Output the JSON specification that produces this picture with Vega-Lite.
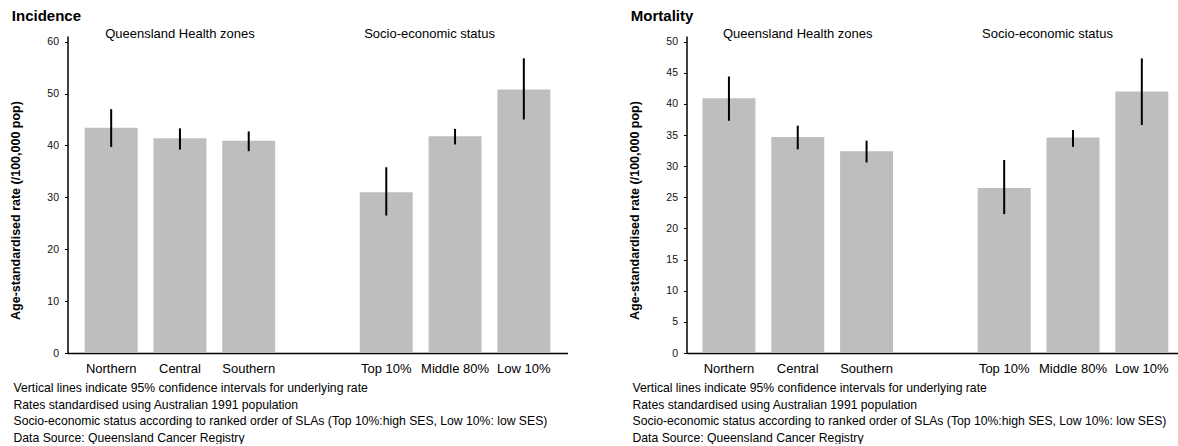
{
  "$schema": "https://vega.github.io/schema/vega-lite/v6.json",
  "padding": {"left": 9.5, "top": 8, "right": 0, "bottom": 0},
  "autosize": {"type": "pad"},
  "config": {
    "font": "Liberation Sans",
    "view": {"stroke": null},
    "axis": {"grid": false, "domainColor": "#000", "domainWidth": 1.5, "tickColor": "#000", "labelColor": "#111", "titleColor": "#000", "labelFont": "Liberation Sans", "titleFont": "Liberation Sans", "labelOverlap": false, "labelFlush": false},
    "title": {"anchor": "start", "fontSize": 15, "font": "Liberation Sans", "fontWeight": "bold", "color": "#000", "offset": 4, "dx": 2},
    "concat": {"spacing": 61},
    "text": {"font": "Liberation Sans", "fontSize": 13, "color": "#000"}
  },
  "datasets": {
    "incidence": [
      {"group": "Northern", "rate": 43.4, "lower": 39.7, "upper": 47.0},
      {"group": "Central", "rate": 41.4, "lower": 39.2, "upper": 43.3},
      {"group": "Southern", "rate": 40.9, "lower": 38.9, "upper": 42.7},
      {"group": "Top 10%", "rate": 31.0, "lower": 26.5, "upper": 35.8},
      {"group": "Middle 80%", "rate": 41.8, "lower": 40.2, "upper": 43.2},
      {"group": "Low 10%", "rate": 50.8, "lower": 45.0, "upper": 56.8}
    ],
    "mortality": [
      {"group": "Northern", "rate": 40.9, "lower": 37.3, "upper": 44.4},
      {"group": "Central", "rate": 34.7, "lower": 32.7, "upper": 36.5},
      {"group": "Southern", "rate": 32.4, "lower": 30.6, "upper": 34.1},
      {"group": "Top 10%", "rate": 26.5, "lower": 22.3, "upper": 31.0},
      {"group": "Middle 80%", "rate": 34.6, "lower": 33.1, "upper": 35.8},
      {"group": "Low 10%", "rate": 42.0, "lower": 36.6, "upper": 47.3}
    ],
    "headers": [
      {"label": "Queensland Health zones", "at": "Central"}
    ],
    "headers2": [
      {"label": "Socio-economic status", "at": "Middle 80%"}
    ]
  },
  "hconcat": [
    {
      "title": {"text": "Incidence"},
      "width": 500,
      "height": 317,
      "layer": [
        {
          "data": {"name": "incidence"},
          "mark": {"type": "bar", "color": "#bebebe"},
          "encoding": {
            "x": {
              "field": "group", "type": "nominal",
              "scale": {"domain": ["Northern", "Central", "Southern", " ", "Top 10%", "Middle 80%", "Low 10%"], "paddingInner": 0.23, "paddingOuter": 0.25},
              "axis": {
                "labelAngle": 0, "ticks": false, "labelFontSize": 13, "labelPadding": 9, "labelColor": "#000",
                "title": ["Vertical lines indicate 95% confidence intervals for underlying rate", "Rates standardised using Australian 1991 population", "Socio-economic status according to ranked order of SLAs (Top 10%:high SES, Low 10%: low SES)", "Data Source: Queensland Cancer Registry"],
                "titleFontWeight": "normal", "titleFontSize": 12.2, "titleLineHeight": 16.7, "titleAnchor": "start", "titleAlign": "left", "titleBaseline": "alphabetic", "titleX": -54.5, "titleY": 38.5
              }
            },
            "y": {
              "field": "rate", "type": "quantitative",
              "scale": {"domain": [0, 61.1], "nice": false, "zero": true},
              "axis": {
                "values": [0, 10, 20, 30, 40, 50, 60], "tickCount": 20, "labelOverlap": false, "tickSize": 3, "labelPadding": 6, "labelFontSize": 10.5,
                "title": "Age-standardised rate (/100,000 pop)", "titleFontSize": 12.5, "titleFontWeight": "bold", "titlePadding": 24, "titleY": 174
              }
            }
          }
        },
        {
          "data": {"name": "incidence"},
          "mark": {"type": "rule", "strokeWidth": 2, "color": "#000"},
          "encoding": {
            "x": {"field": "group", "type": "nominal"},
            "y": {"field": "lower", "type": "quantitative"},
            "y2": {"field": "upper"}
          }
        },
        {
          "data": {"name": "headers"},
          "mark": {"type": "text", "baseline": "alphabetic", "align": "center"},
          "encoding": {
            "x": {"field": "at", "type": "nominal"},
            "y": {"datum": 60.75, "type": "quantitative"},
            "text": {"field": "label"}
          }
        },
        {
          "data": {"name": "headers2"},
          "mark": {"type": "text", "baseline": "alphabetic", "align": "center", "dx": -25.5},
          "encoding": {
            "x": {"field": "at", "type": "nominal"},
            "y": {"datum": 60.75, "type": "quantitative"},
            "text": {"field": "label"}
          }
        }
      ]
    },
    {
      "title": {"text": "Mortality"},
      "width": 492,
      "height": 317,
      "layer": [
        {
          "data": {"name": "mortality"},
          "mark": {"type": "bar", "color": "#bebebe"},
          "encoding": {
            "x": {
              "field": "group", "type": "nominal",
              "scale": {"domain": ["Northern", "Central", "Southern", " ", "Top 10%", "Middle 80%", "Low 10%"], "paddingInner": 0.23, "paddingOuter": 0.19, "align": 0.61},
              "axis": {
                "labelAngle": 0, "ticks": false, "labelFontSize": 13, "labelPadding": 9, "labelColor": "#000",
                "title": ["Vertical lines indicate 95% confidence intervals for underlying rate", "Rates standardised using Australian 1991 population", "Socio-economic status according to ranked order of SLAs (Top 10%:high SES, Low 10%: low SES)", "Data Source: Queensland Cancer Registry"],
                "titleFontWeight": "normal", "titleFontSize": 12.2, "titleLineHeight": 16.7, "titleAnchor": "start", "titleAlign": "left", "titleBaseline": "alphabetic", "titleX": -54.5, "titleY": 38.5
              }
            },
            "y": {
              "field": "rate", "type": "quantitative",
              "scale": {"domain": [0, 50.9], "nice": false, "zero": true},
              "axis": {
                "values": [0, 5, 10, 15, 20, 25, 30, 35, 40, 45, 50], "tickCount": 20, "labelOverlap": false, "tickSize": 3, "labelPadding": 6, "labelFontSize": 10.5,
                "title": "Age-standardised rate (/100,000 pop)", "titleFontSize": 12.5, "titleFontWeight": "bold", "titlePadding": 24, "titleY": 174
              }
            }
          }
        },
        {
          "data": {"name": "mortality"},
          "mark": {"type": "rule", "strokeWidth": 2, "color": "#000"},
          "encoding": {
            "x": {"field": "group", "type": "nominal"},
            "y": {"field": "lower", "type": "quantitative"},
            "y2": {"field": "upper"}
          }
        },
        {
          "data": {"name": "headers"},
          "mark": {"type": "text", "baseline": "alphabetic", "align": "center"},
          "encoding": {
            "x": {"field": "at", "type": "nominal"},
            "y": {"datum": 50.61, "type": "quantitative"},
            "text": {"field": "label"}
          }
        },
        {
          "data": {"name": "headers2"},
          "mark": {"type": "text", "baseline": "alphabetic", "align": "center", "dx": -25.5},
          "encoding": {
            "x": {"field": "at", "type": "nominal"},
            "y": {"datum": 50.61, "type": "quantitative"},
            "text": {"field": "label"}
          }
        }
      ]
    }
  ]
}
